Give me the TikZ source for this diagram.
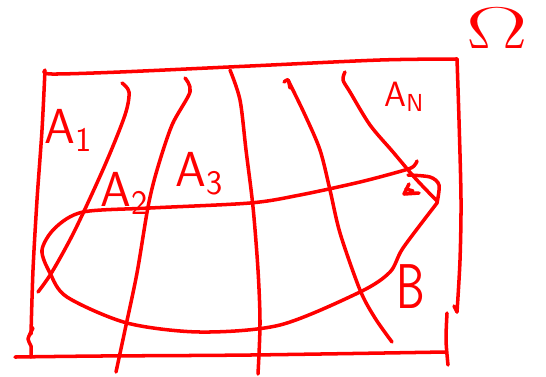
\documentclass[tikz,border=0pt]{standalone}
\usepackage{amsmath}
\usepackage{xcolor}
\usepackage{graphicx}
\usepackage{tikz}
\usetikzlibrary{calc}

\tikzset{
  pen/.style={draw=red, line width=2pt, line cap=round, line join=round},
  tag/.style={text=red, inner sep=0pt, anchor=base west, font=\sffamily\fontsize{28}{30}\selectfont}
}

\begin{document}
\begin{tikzpicture}[x=0.02cm, y=-0.02cm]
\useasboundingbox (0,0) rectangle (546,376);

% Frame
\draw[pen] plot[smooth] coordinates {(44,71) (52,74) (120,72) (250,66) (380,60) (457,59)};
\draw[pen] plot[smooth] coordinates {(457,59) (459,120) (461,200) (460,260) (457,312)};
\draw[pen] (457,312) -- (454,306);
\draw[pen] plot[smooth] coordinates {(45,70) (42,130) (37,200) (33,270) (31,334)};
\draw[pen] plot[smooth] coordinates {(33,328) (28,339) (31,346) (31,357)};
\draw[pen] plot[smooth] coordinates {(15,357) (100,356) (250,355) (445,352)};
\draw[pen] plot[smooth] coordinates {(447,313) (446,340) (448,365)};

% Partition curves
\draw[pen] plot[smooth] coordinates {(122,83) (129,92) (125,115) (105,165) (75,230) (52,272) (38,292)};
\draw[pen] plot[smooth] coordinates {(185,78) (190,92) (172,125) (157,170) (148,207) (137,273) (125,330) (116,372)};
\draw[pen] plot[smooth] coordinates {(230,70) (240,100) (246,150) (253,207) (258,270) (260,323) (258,374)};
\draw[pen] plot[smooth] coordinates {(284,82) (288,80) (290,88)};
\draw[pen] plot[smooth] coordinates {(288,80) (305,115) (320,150) (330,190) (340,233) (360,290) (375,318) (392,342)};
\draw[pen] plot[smooth] coordinates {(345,72) (343,80) (350,92) (370,125) (393,152) (415,178) (437,201)};

% Set B
\draw[pen] plot[smooth] coordinates {(417,161) (414,166) (405,170) (360,182) (300,195) (250,203)
  (150,208) (83,212) (55,228) (42,250) (50,273) (67,297) (127,323) (200,332) (280,325)
  (360,292) (390,272) (403,248) (437,203)};
\draw[pen] plot[smooth] coordinates {(437,203) (439,185) (430,177) (408,175)};
\draw[pen] (409,184) -- (404,194) -- (419,193);
\draw[pen] (406,189) -- (413,191);

% Labels
\node[tag] (lblA1) at (44,143) {A\textsubscript{1}};
\node[tag] (lblA2) at (100,206) {A\textsubscript{2}};
\node[tag] (lblA3) at (175,186) {A\textsubscript{3}};
\node[tag, font=\sffamily\fontsize{20}{22}\selectfont] (lblAN) at (384,106) {A\textsubscript{N}};
\node[tag, font=\sffamily\fontsize{36}{38}\selectfont] (lblB) at (396,308) {\scalebox{0.72}[1]{B}};
\node[tag, font=\Huge] (lblOmega) at (466,48) {\scalebox{2.1}[1.35]{$\Omega$}};

\end{tikzpicture}
\end{document}
